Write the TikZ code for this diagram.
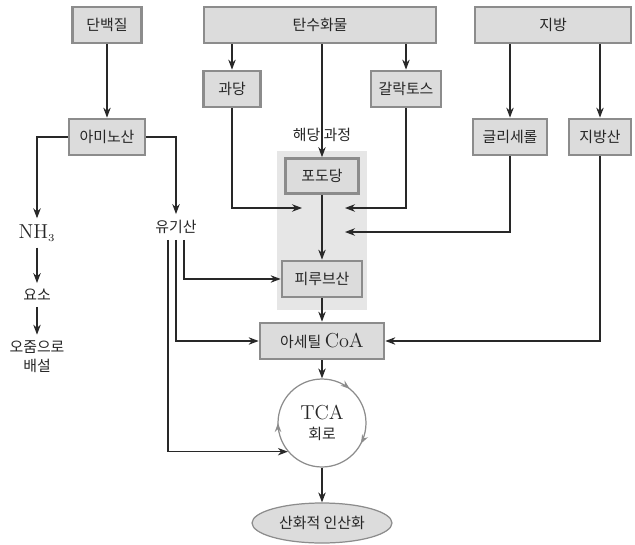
\documentclass[tikz,border=0pt]{standalone}
\usepackage{fontspec}
\usepackage{tikz}
\usetikzlibrary{arrows.meta,positioning,shapes.geometric,decorations.markings}
\newfontfamily\kr{Noto Sans CJK KR}
\definecolor{boxline}{RGB}{140,140,140}
\definecolor{boxfill}{RGB}{220,220,220}
\definecolor{zonefill}{RGB}{230,230,230}
\definecolor{linkline}{RGB}{40,40,40}
\newcommand{\romtxt}[1]{{\rmfamily\fontsize{11.5}{13}\selectfont #1}}

\begin{document}
\begin{tikzpicture}[x=0.02cm, y=-0.02cm,
  every node/.style={font=\kr\fontsize{8.5}{11}\selectfont, text=black!85},
  box/.style={draw=boxline, fill=boxfill, line width=1.6pt,
              minimum height=0.72cm, inner sep=2pt},
  arr/.style={-{Stealth[length=2mm, width=1.5mm]}, draw=linkline, line width=0.6pt},
  cycle/.style={circle, draw=boxline, line width=0.7pt, align=center,
                minimum size=1.76cm, postaction={decorate},
                decoration={markings,
                  mark=at position 0.142 with {\arrowreversed[boxline]{Stealth[length=1.8mm, width=1.3mm]}},
                  mark=at position 0.5 with {\arrowreversed[boxline]{Stealth[length=1.8mm, width=1.3mm]}},
                  mark=at position 0.922 with {\arrowreversed[boxline]{Stealth[length=1.8mm, width=1.3mm]}}}}
]
\useasboundingbox (0,0) rectangle (635,544);

% glycolysis area
\node[fill=zonefill, minimum width=1.8cm, minimum height=3.18cm] (zone) at (322,230.5) {};
\node (glylbl) at (322,135) {해당 과정};

% sources
\node[box, minimum width=1.38cm] (prot) at (107,25) {단백질};
\node[box, minimum width=4.64cm] (carb) at (320,25) {탄수화물};
\node[box, minimum width=3.12cm] (fat) at (553,25) {지방};
\node[box, minimum width=1.14cm] (fru) at (232,89) {과당};
\node[box, minimum width=1.40cm] (gal) at (406,89) {갈락토스};
\node[box, minimum width=1.52cm] (amino) at (107,137) {아미노산};
\node[box, minimum width=1.48cm] (glyc) at (510,137) {글리세롤};
\node[box, minimum width=1.24cm] (fa) at (600,137) {지방산};

% main pathway
\node[box, minimum width=1.46cm, minimum height=0.7cm] (glc) at (322,176) {포도당};
\node[box, minimum width=1.6cm] (pyr) at (322,279) {피루브산};
\node[box, minimum width=2.48cm] (acoa) at (322,341) {아세틸 \romtxt{CoA}};
\node[cycle] (tca) at (322,423) {\romtxt{TCA}\\회로};
\node[ellipse, draw=boxline, fill=boxfill, line width=0.7pt,
      minimum width=2.8cm, minimum height=0.8cm] (oxp) at (322,523) {산화적 인산화};

% nitrogen side
\node (nh3) at (37,233) {\romtxt{NH$_{\scriptscriptstyle 3}$}};
\node (urea) at (37,295) {요소};
\node[align=center] (urine) at (37,357) {오줌으로\\배설};
\node (org) at (176,227) {유기산};

\coordinate (fruin) at (302,208);
\coordinate (galin) at (345,208);
\coordinate (glycin) at (345,232);

\draw[arr] (prot) -- (amino);
\draw[arr] (carb.south -| fru) -- (fru);
\draw[arr] (carb.south -| glc) -- (glc);
\draw[arr] (carb.south -| gal) -- (gal);
\draw[arr] (fat.south -| glyc) -- (glyc);
\draw[arr] (fat.south -| fa) -- (fa);
\draw[arr] (amino) -| (nh3);
\draw[arr] (amino) -| (org);
\draw[arr] (nh3) -- (urea);
\draw[arr] (urea) -- (urine);
\draw[arr] (fru) |- (fruin);
\draw[arr] (gal) |- (galin);
\draw[arr] (glyc) |- (glycin);
\draw[arr] (glc) -- (pyr);
\draw[arr] ([xshift=0.16cm]org.south) |- (pyr);
\draw[arr] (org) |- (acoa);
\draw[arr] ([xshift=-0.16cm]org.south) |- (tca.220);
\draw[arr] (pyr) -- (acoa);
\draw[arr] (acoa) -- (tca);
\draw[arr] (tca) -- (oxp);
\draw[arr] (fa) |- (acoa);
\end{tikzpicture}
\end{document}
